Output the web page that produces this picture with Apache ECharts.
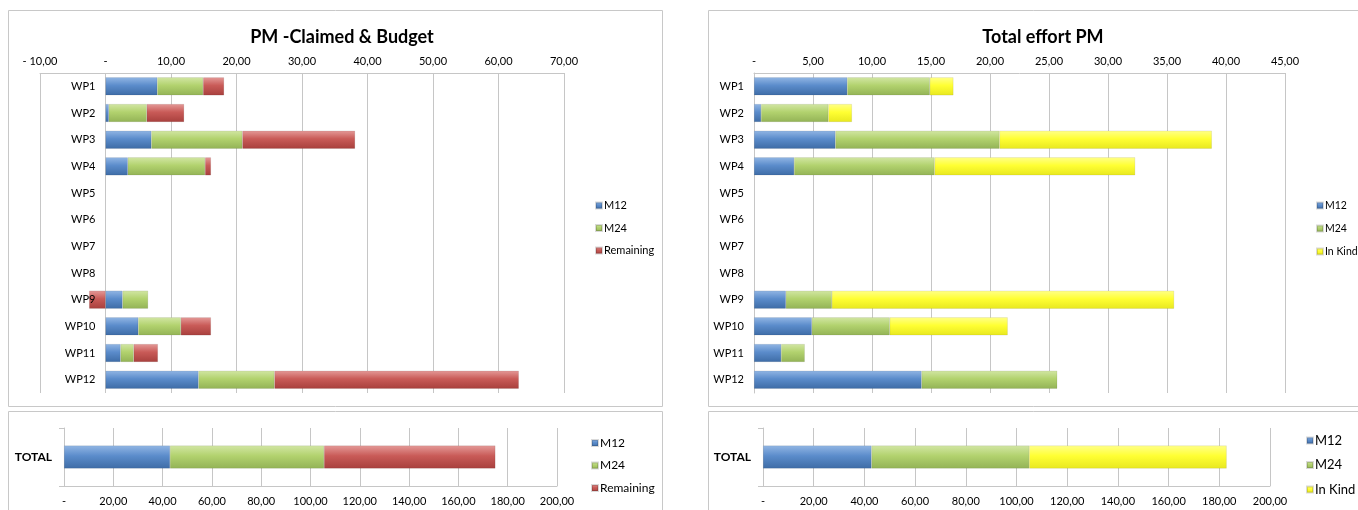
<!DOCTYPE html>
<html>
<head>
<meta charset="utf-8">
<script src="https://cdn.jsdelivr.net/npm/echarts@6/dist/echarts.min.js"></script>
<style>
html,body{margin:0;padding:0;background:#fff;}
#c{width:1358px;height:510px;}
</style>
</head>
<body>
<div id="c"></div>
<script>
// ---- data ----
const categories = ['WP1','WP2','WP3','WP4','WP5','WP6','WP7','WP8','WP9','WP10','WP11','WP12'];
// PM - Claimed & Budget
const claimedM12 = [7.9, 0.5, 7.0, 3.4, null, null, null, null, 2.6, 5.0, 2.3, 14.2];
const claimedM24 = [7.0, 5.8, 13.9, 11.8, null, null, null, null, 3.9, 6.5, 2.0, 11.6];
const remaining  = [3.2, 5.7, 17.2, 0.9, null, null, null, null, -2.5, 4.6, 3.7, 37.3];
// Total effort PM
const effortM12  = [7.9, 0.6, 6.9, 3.4, null, null, null, null, 2.7, 4.9, 2.3, 14.2];
const effortM24  = [7.0, 5.7, 13.9, 11.9, null, null, null, null, 3.9, 6.6, 2.0, 11.5];
const inKind     = [2.0, 2.0, 18.0, 17.0, null, null, null, null, 29.0, 10.0, null, null];
// Totals
const totalCategory = ['TOTAL'];
const totalClaimedM12 = [43.0];
const totalClaimedM24 = [62.5];
const totalRemaining  = [69.5];
const totalEffortM12  = [42.8];
const totalEffortM24  = [62.2];
const totalInKind     = [77.9];
// axis ranges
const leftAxis  = {min: -10, max: 70, interval: 10};
const rightAxis = {min: 0, max: 45, interval: 5};
const totalAxis = {min: 0, max: 200, interval: 20};

// ---- rendering ----
const FONT = 'Lato, "Open Sans", sans-serif';
const chart = echarts.init(document.getElementById('c'), null, {renderer: 'canvas'});

function grad(light, base, dark) {
  return new echarts.graphic.LinearGradient(0, 0, 0, 1, [
    {offset: 0, color: light},
    {offset: 0.45, color: base},
    {offset: 1, color: dark}
  ]);
}
const C = {
  blue:   grad('#92B6E4', '#5B8CCB', '#3E6CA6'),
  green:  grad('#D2E6A4', '#B2D26E', '#93B356'),
  red:    grad('#E49A98', '#C95B58', '#A8403D'),
  yellow: grad('#FFFF8A', '#FFFF33', '#E8E820')
};

function fmt(v) {
  if (v === 0) return '-';
  if (v < 0) return '- ' + Math.abs(v).toFixed(2).replace('.', ',');
  return v.toFixed(2).replace('.', ',');
}

function bar(name, data, color, xi, yi, stack, bw) {
  return {
    type: 'bar', name: name, data: data, stack: stack,
    xAxisIndex: xi, yAxisIndex: yi, barWidth: bw,
    itemStyle: {color: color, borderColor: 'rgba(0,0,0,0.15)', borderWidth: 0.5},
    emphasis: {disabled: true},
    z: 3
  };
}

const gridLine = {show: true, lineStyle: {color: '#C6C6C6', width: 1}};

function topXAxis(r, gi) {
  return {
    type: 'value', gridIndex: gi, position: 'top',
    min: r.min, max: r.max, interval: r.interval,
    axisLine: {show: true, onZero: false, lineStyle: {color: '#C6C6C6'}},
    axisTick: {show: false},
    splitLine: gridLine,
    axisLabel: {formatter: fmt, color: '#000', fontSize: 11, fontFamily: FONT, margin: 6}
  };
}
function botXAxis(r, gi) {
  return {
    type: 'value', gridIndex: gi, position: 'bottom',
    min: r.min, max: r.max, interval: r.interval,
    axisLine: {show: true, onZero: false, lineStyle: {color: '#C6C6C6'}},
    axisTick: {show: false},
    splitLine: gridLine,
    axisLabel: {formatter: fmt, color: '#000', fontSize: 11, fontFamily: FONT, margin: 10}
  };
}
function catAxis(data, gi, bold, ticks, offset, lineShow, z) {
  return {
    type: 'category', gridIndex: gi, data: data, inverse: true,
    offset: offset, z: z,
    axisLine: {show: lineShow, onZero: false, lineStyle: {color: '#C6C6C6'}},
    axisTick: {show: ticks, length: 5, lineStyle: {color: '#C6C6C6'}},
    splitLine: {show: false},
    axisLabel: {color: '#000', fontSize: bold ? 12 : 11, fontWeight: bold ? 'bold' : 'normal',
                fontFamily: FONT, margin: bold ? 12 : 10}
  };
}

function legend(left, top, data, fs, gap) {
  return {
    orient: 'vertical', left: left, top: top, height: 120, data: data,
    icon: 'rect', itemWidth: 6, itemHeight: 6, itemGap: gap,
    selectedMode: false, padding: 0,
    textStyle: {color: '#000', fontSize: fs, fontFamily: FONT, padding: [0, 0, 0, -3]}
  };
}

const option = {
  animation: false,
  backgroundColor: '#fff',
  textStyle: {fontFamily: FONT},
  title: [
    {text: 'PM -Claimed & Budget', left: 337, top: 23, textAlign: 'center',
     textStyle: {fontSize: 18, fontWeight: 'bold', color: '#000', fontFamily: FONT}},
    {text: 'Total effort PM', left: 1038, top: 23, textAlign: 'center',
     textStyle: {fontSize: 18, fontWeight: 'bold', color: '#000', fontFamily: FONT}}
  ],
  graphic: [
    {type: 'rect', shape: {x: 8.5, y: 10.5, width: 654, height: 396}, style: {fill: 'none', stroke: '#C8C8C8', lineWidth: 1}, z: -1},
    {type: 'rect', shape: {x: 708.5, y: 10.5, width: 660, height: 396}, style: {fill: 'none', stroke: '#C8C8C8', lineWidth: 1}, z: -1},
    {type: 'rect', shape: {x: 8.5, y: 411.5, width: 654, height: 110}, style: {fill: 'none', stroke: '#C8C8C8', lineWidth: 1}, z: -1},
    {type: 'rect', shape: {x: 708.5, y: 411.5, width: 660, height: 110}, style: {fill: 'none', stroke: '#C8C8C8', lineWidth: 1}, z: -1}
  ],
  legend: [
    legend(595, 200, ['M12', 'M24', 'Remaining'], 11, 11.5),
    legend(1316, 200, ['M12', 'M24', 'In Kind'], 10.5, 12),
    legend(591, 437, ['M12', 'M24', 'Remaining'], 12, 10.5),
    legend(1306, 434, ['M12', 'M24', 'In Kind'], 13, 11.5)
  ],
  grid: [
    {left: 40, top: 73, width: 524, height: 320, outerBoundsMode: 'none'},
    {left: 754, top: 73, width: 531, height: 320, outerBoundsMode: 'none'},
    {left: 64, top: 428, width: 493, height: 58, outerBoundsMode: 'none'},
    {left: 763, top: 428, width: 507, height: 58, outerBoundsMode: 'none'}
  ],
  xAxis: [
    topXAxis(leftAxis, 0),
    topXAxis(rightAxis, 1),
    botXAxis(totalAxis, 2),
    botXAxis(totalAxis, 3)
  ],
  yAxis: [
    catAxis(categories, 0, false, false, -524 / 8, false, 10),
    catAxis(categories, 1, false, false, 0, true, 0),
    catAxis(totalCategory, 2, true, true, 0, true, 0),
    catAxis(totalCategory, 3, true, true, 0, true, 0)
  ],
  series: [
    bar('M12', claimedM12, C.blue, 0, 0, 'a', 18),
    bar('M24', claimedM24, C.green, 0, 0, 'a', 18),
    bar('Remaining', remaining, C.red, 0, 0, 'a', 18),
    bar('M12', effortM12, C.blue, 1, 1, 'b', 18),
    bar('M24', effortM24, C.green, 1, 1, 'b', 18),
    bar('In Kind', inKind, C.yellow, 1, 1, 'b', 18),
    bar('M12', totalClaimedM12, C.blue, 2, 2, 'c', 23),
    bar('M24', totalClaimedM24, C.green, 2, 2, 'c', 23),
    bar('Remaining', totalRemaining, C.red, 2, 2, 'c', 23),
    bar('M12', totalEffortM12, C.blue, 3, 3, 'd', 23),
    bar('M24', totalEffortM24, C.green, 3, 3, 'd', 23),
    bar('In Kind', totalInKind, C.yellow, 3, 3, 'd', 23)
  ]
};
chart.setOption(option);
</script>
</body>
</html>
